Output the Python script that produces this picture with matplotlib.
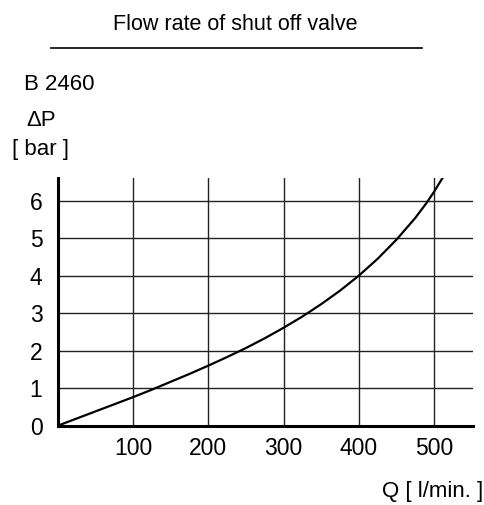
import matplotlib
matplotlib.use("Agg")
import matplotlib.pyplot as plt
from matplotlib.lines import Line2D

plt.rcParams['font.family'] = ['Liberation Sans', 'DejaVu Sans']

# 読み取った曲線 (Q [l/min], ΔP [bar])
q = [0, 25, 50, 75, 100, 125, 150, 175, 200, 225, 250, 275, 300, 325,
     350, 375, 400, 425, 450, 475, 490, 500, 511]
dp = [0, 0.19, 0.38, 0.57, 0.76, 0.96, 1.17, 1.38, 1.60, 1.83, 2.07, 2.33, 2.61, 2.91,
      3.24, 3.60, 4.00, 4.45, 4.96, 5.54, 5.94, 6.24, 6.60]

x_ticks = [100, 200, 300, 400, 500]
y_ticks = [0, 1, 2, 3, 4, 5, 6]

W, H = 485, 505
fig = plt.figure(figsize=(W / 100, H / 100), dpi=100)

# 軸の位置 (ピクセルから)
left, right, top, bottom = 57.7, 473, 178, 425.7
ax = fig.add_axes([left / W, 1 - bottom / H, (right - left) / W, (bottom - top) / H])

ax.plot(q, dp, color='black', linewidth=1.6, solid_joinstyle='round', zorder=3)

ax.set_xlim(0, 551.5)
ax.set_ylim(0, 6.6)
ax.set_xticks(x_ticks)
ax.set_yticks(y_ticks)
ax.grid(True, color='#222222', linewidth=1.0)
ax.set_axisbelow(True)

for s in ['top', 'right']:
    ax.spines[s].set_visible(False)
for s in ['left', 'bottom']:
    ax.spines[s].set_linewidth(2.2)
    ax.spines[s].set_color('black')

ax.tick_params(axis='both', length=0, labelsize=16.5, colors='black')
ax.tick_params(axis='y', pad=11)
ax.tick_params(axis='x', pad=8)

# タイトルと注記
fig.text(235 / W, 1 - 24 / H, 'Flow rate of shut off valve', ha='center', va='center', fontsize=15.5)
fig.add_artist(Line2D([51 / W, 422 / W], [1 - 47.7 / H, 1 - 47.7 / H], color='black', linewidth=1.2))
fig.text(24 / W, 1 - 84 / H, 'B 2460', ha='left', va='center', fontsize=16)
fig.text(26 / W, 1 - 121 / H, '\u0394P', ha='left', va='center', fontsize=16)
fig.text(12 / W, 1 - 149 / H, '[ bar ]', ha='left', va='center', fontsize=16)
fig.text(483 / W, 1 - 491 / H, 'Q [ l/min. ]', ha='right', va='center', fontsize=16)

fig.savefig('out.png', dpi=100)
